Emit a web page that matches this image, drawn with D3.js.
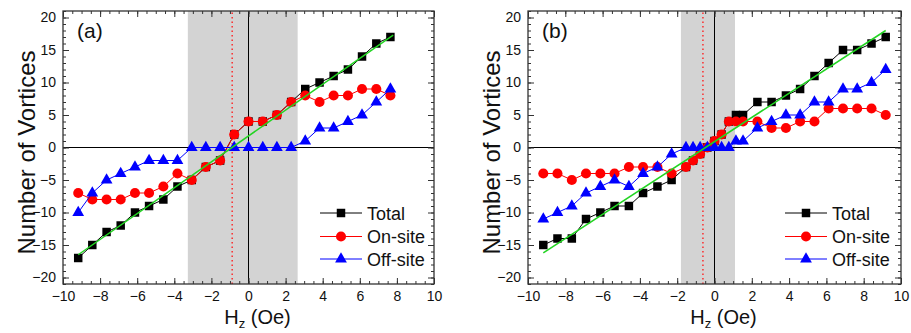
<!DOCTYPE html>
<html>
<head>
<meta charset="utf-8">
<script src="https://cdn.jsdelivr.net/npm/d3@7"></script>
<style>
  body { margin: 0; background: #fff; }
  svg { display: block; font-family: Arial, "Liberation Sans", sans-serif; }
</style>
</head>
<body>
<div id="chart"></div>
<script>
// panel (a)
const xA = [-9.18, -8.42, -7.65, -6.89, -6.12, -5.36, -4.59, -3.83, -3.06, -2.3, -1.53, -0.77,
            0, 0.77, 1.53, 2.3, 3.06, 3.83, 4.59, 5.36, 6.12, 6.89, 7.65];
const totalA = [-17, -15, -13, -12, -10, -9, -8, -6, -5, -3, -2, 2, 4, 4, 5, 7, 9, 10, 11, 12, 14, 16, 17];
const onA = [-7, -8, -8, -8, -7, -7, -6, -4, -5, -3, -2, 2, 4, 4, 5, 7, 8, 7, 8, 8, 9, 9, 8];
const offA = [-10, -7, -5, -4, -3, -2, -2, -2, 0, 0, 0, 0, 0, 0, 0, 0, 1, 3, 3, 4, 5, 7, 9];
const fitAx = [-9.18, 7.8];
const fitAy = [-16.5, 17.3];
const shadeA = [-3.27, 2.65];
const zeroA = -0.88;

// panel (b)
const xB = [-9.18, -8.42, -7.65, -6.89, -6.12, -5.36, -4.59, -3.83, -3.06, -2.3,
            -1.53, -1.15, -0.77, -0.38, 0, 0.38, 0.77, 1.15, 1.53,
            2.3, 3.06, 3.83, 4.59, 5.36, 6.12, 6.89, 7.65, 8.42, 9.18];
const totalB = [-15, -14, -14, -11, -10, -9, -9, -7, -6, -5, -3, -2, -1, 0, 1, 2, 4, 5, 5,
                7, 7, 8, 9, 11, 13, 15, 15, 16, 17];
const onB = [-4, -4, -5, -4, -4, -4, -3, -3, -3, -4, -3, -2, -1, 0, 1, 2, 4, 4, 4,
             4, 3, 3, 4, 4, 6, 6, 6, 6, 5];
const offB = [-11, -10, -9, -7, -6, -5, -6, -4, -3, -1, 0, 0, 0, 0, 0, 0, 0, 1, 1,
              3, 4, 5, 5, 7, 7, 9, 9, 10, 12];
const fitBx = [-9.18, 9.18];
const fitBy = [-16.2, 18.0];
const shadeB = [-1.8, 1.1];
const zeroB = -0.62;

const xTicks = [-10, -8, -6, -4, -2, 0, 2, 4, 6, 8, 10];
const yTicks = [-20, -15, -10, -5, 0, 5, 10, 15, 20];
const seriesNames = ['Total', 'On-site', 'Off-site'];
const seriesColors = ['#000000', '#ff0000', '#0000ff'];

const W = 911, H = 333;
const svg = d3.select('#chart').append('svg').attr('width', W).attr('height', H);

const symbols = [
  d3.symbol().type(d3.symbolSquare).size(72),
  d3.symbol().type(d3.symbolCircle).size(80),
  d3.symbol().type(d3.symbolTriangle).size(60)
];

function drawPanel(p) {
  const x = d3.scaleLinear().domain([-10, 10]).range([p.left, p.right]);
  const y = d3.scaleLinear().domain([-21, 21]).range([284, 11]);
  const g = svg.append('g');

  // shaded field window
  g.append('rect')
    .attr('x', x(p.shade[0])).attr('y', y(21))
    .attr('width', x(p.shade[1]) - x(p.shade[0]))
    .attr('height', y(-21) - y(21))
    .attr('fill', '#d3d3d3');

  // zero lines
  g.append('line').attr('x1', x(-10)).attr('x2', x(10)).attr('y1', y(0)).attr('y2', y(0))
    .attr('stroke', '#000').attr('stroke-width', 1);
  g.append('line').attr('x1', x(0)).attr('x2', x(0)).attr('y1', y(-21)).attr('y2', y(21))
    .attr('stroke', '#000').attr('stroke-width', 1);
  g.append('line').attr('x1', x(p.zero)).attr('x2', x(p.zero)).attr('y1', y(-21)).attr('y2', y(21))
    .attr('stroke', '#ff2020').attr('stroke-width', 1.4).attr('stroke-dasharray', '1.5,3');

  // axes, ticks inside on all four sides
  const minorX = d3.range(-10, 10.01, 0.5);
  const minorY = d3.range(-21, 21.01, 1);
  const bottom = g.append('g').attr('transform', `translate(0,${y(-21)})`);
  bottom.call(d3.axisBottom(x).tickValues(xTicks).tickSize(-6).tickPadding(7).tickFormat(d3.format('d')));
  bottom.append('g').call(d3.axisBottom(x).tickValues(minorX).tickSize(-3).tickFormat(''));
  const top = g.append('g').attr('transform', `translate(0,${y(21)})`);
  top.call(d3.axisTop(x).tickValues(xTicks).tickSize(-6).tickFormat(''));
  top.append('g').call(d3.axisTop(x).tickValues(minorX).tickSize(-3).tickFormat(''));
  const left = g.append('g').attr('transform', `translate(${x(-10)},0)`);
  left.call(d3.axisLeft(y).tickValues(yTicks).tickSize(-6).tickPadding(7).tickFormat(d3.format('d')));
  left.append('g').call(d3.axisLeft(y).tickValues(minorY).tickSize(-3).tickFormat(''));
  const right = g.append('g').attr('transform', `translate(${x(10)},0)`);
  right.call(d3.axisRight(y).tickValues(yTicks).tickSize(-6).tickFormat(''));
  right.append('g').call(d3.axisRight(y).tickValues(minorY).tickSize(-3).tickFormat(''));
  g.selectAll('.domain').remove();
  g.selectAll('.tick line').attr('stroke', '#333');
  g.selectAll('.tick text').attr('font-size', 14).attr('fill', '#111')
    .attr('font-family', 'Arial, "Liberation Sans", sans-serif');

  g.append('rect')
    .attr('x', x(-10)).attr('y', y(21))
    .attr('width', x(10) - x(-10)).attr('height', y(-21) - y(21))
    .attr('fill', 'none').attr('stroke', '#333').attr('stroke-width', 1.3);

  // data series
  const line = d3.line().x(d => x(d[0])).y(d => y(d[1]));
  p.series.forEach((vals, i) => {
    const pts = p.xs.map((xv, j) => [xv, vals[j]]);
    g.append('path').attr('d', line(pts)).attr('fill', 'none')
      .attr('stroke', seriesColors[i]).attr('stroke-width', 1);
    g.selectAll(null).data(pts).enter().append('path')
      .attr('d', symbols[i])
      .attr('transform', d => `translate(${x(d[0])},${y(d[1])})`)
      .attr('fill', seriesColors[i]);
  });

  // linear fit
  g.append('line')
    .attr('x1', x(p.fitX[0])).attr('y1', y(p.fitY[0]))
    .attr('x2', x(p.fitX[1])).attr('y2', y(p.fitY[1]))
    .attr('stroke', '#22d422').attr('stroke-width', 1.5);

  // legend
  const rows = [213, 236.5, 259];
  seriesNames.forEach((name, i) => {
    g.append('line').attr('x1', p.legX).attr('x2', p.legX + 42).attr('y1', rows[i]).attr('y2', rows[i])
      .attr('stroke', seriesColors[i]).attr('stroke-width', 1);
    g.append('path').attr('d', symbols[i])
      .attr('transform', `translate(${p.legX + 21},${rows[i]})`).attr('fill', seriesColors[i]);
    g.append('text').attr('x', p.legX + 47).attr('y', rows[i] + 6.5)
      .attr('font-size', 18).attr('fill', '#111').text(name);
  });

  // panel label
  g.append('text').attr('x', x(-10) + 14).attr('y', 38)
    .attr('font-size', 21).attr('fill', '#111').text(p.label);

  // axis titles
  const xt = g.append('text').attr('x', x(0) + 9).attr('y', 324)
    .attr('text-anchor', 'middle').attr('font-size', 20).attr('fill', '#111');
  xt.append('tspan').text('H');
  xt.append('tspan').attr('font-size', 13).attr('dy', 4).text('z');
  xt.append('tspan').attr('dy', -4).text(' (Oe)');

  g.append('text')
    .attr('transform', `translate(${p.left - 28},${y(0) + 5}) rotate(-90)`)
    .attr('text-anchor', 'middle').attr('font-size', 24).attr('fill', '#111')
    .text('Number of Vortices');
}

drawPanel({
  left: 63, right: 434, label: '(a)', legX: 320,
  xs: xA, series: [totalA, onA, offA],
  fitX: fitAx, fitY: fitAy, shade: shadeA, zero: zeroA
});
drawPanel({
  left: 528, right: 901, label: '(b)', legX: 785,
  xs: xB, series: [totalB, onB, offB],
  fitX: fitBx, fitY: fitBy, shade: shadeB, zero: zeroB
});
</script>
</body>
</html>
